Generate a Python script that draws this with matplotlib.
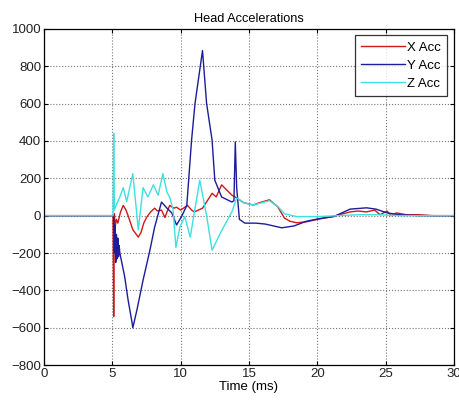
import matplotlib
matplotlib.use("Agg")
import matplotlib.pyplot as plt

plt.rcParams['font.family'] = ['Liberation Sans', 'DejaVu Sans']

title = "Head Accelerations"
xlabel = "Time (ms)"
series_names = ["X Acc", "Y Acc", "Z Acc"]
xticks = [0, 5, 10, 15, 20, 25, 30]
yticks = [-800, -600, -400, -200, 0, 200, 400, 600, 800, 1000]

# X Acc
x_t = [0, 5.05, 5.1, 5.15, 5.2, 5.3, 5.4, 5.6, 5.8, 6.0, 6.2, 6.5, 6.9, 7.1, 7.3, 7.5, 7.8, 8.1, 8.3,
       8.6, 8.85, 9.0, 9.2, 9.5, 9.7, 10.0, 10.5, 10.8, 11.0, 11.3, 11.6, 12.0, 12.3, 12.6, 13.0, 13.2,
       13.75, 14.1, 14.6, 15.3, 15.8, 16.5, 17.1, 17.6, 18.0, 18.5, 19.2, 20.0, 21.1, 22.4, 23.0, 23.6,
       24.2, 24.6, 25.1, 25.4, 25.8, 26.5, 27.5, 28.5, 30.0]
x_v = [0, 0, -540, 10, -60, -20, -40, 20, 55, 30, -10, -75, -115, -90, -40, -10, 20, 40, 25,
       30, -10, 20, 55, 40, 45, 30, 55, 30, 20, 30, 40, 85, 120, 100, 165, 150,
       110, 95, 70, 57, 70, 85, 48, -13, -30, -38, -33, -20, -5, 20, 25, 20,
       30, 5, 25, 0, 15, 5, 5, 0, 0]

# Y Acc
y_t = [0, 5.1, 5.15, 5.2, 5.25, 5.3, 5.35, 5.4, 5.45, 5.5, 5.55, 5.9, 6.15, 6.45, 6.5, 6.8, 7.25, 7.75,
       8.1, 8.6, 9.0, 9.35, 9.7, 10.1, 10.45, 10.8, 11.05, 11.6, 11.9, 12.3, 12.5, 13.0, 13.75, 13.9,
       14.0, 14.1, 14.3, 14.7, 15.5, 16.2, 17.4, 18.3, 19.2, 20.2, 21.2, 22.4, 23.6, 24.3, 25.1, 26.0,
       27.5, 30.0]
y_v = [0, 0, -200, -50, -250, -100, -230, -120, -220, -160, -200, -325, -450, -575, -600, -505, -345, -185,
       -60, 73, 40, 15, -50, 0, 55, 405, 600, 884, 600, 405, 190, 100, 73, 80,
       395, 150, -20, -40, -40, -45, -65, -55, -30, -15, -5, 35, 42, 35, 15, 5,
       0, 0]

# Z Acc
z_t = [0, 5.05, 5.1, 5.15, 5.3, 5.55, 5.8, 6.05, 6.5, 6.9, 7.25, 7.6, 8.0, 8.35, 8.7, 9.0, 9.2, 9.45,
       9.65, 9.95, 10.3, 10.7, 11.4, 11.9, 12.3, 13.0, 13.75, 14.1, 14.6, 15.3, 16.5, 17.1, 17.6, 18.5,
       20.0, 21.5, 23.0, 24.5, 26.0, 28.0, 30.0]
z_v = [0, 0, 440, 30, 60, 100, 150, 75, 225, -75, 150, 100, 165, 110, 225, 125, 100, 30,
       -170, -60, -5, -115, 190, 0, -185, -80, 20, 95, 70, 57, 80, 50, 10, -5,
       -5, 0, 5, 5, 0, 0, 0]

colors = ['#d01818', '#1c1c9c', '#3ee0e0']

fig = plt.figure(figsize=(4.59, 4.07), dpi=100)
ax = fig.add_axes([0.0959, 0.103, 0.893, 0.826])
ax.plot(x_t, x_v, color=colors[0], lw=1.0, label=series_names[0])
ax.plot(y_t, y_v, color=colors[1], lw=1.0, label=series_names[1])
ax.plot(z_t, z_v, color=colors[2], lw=1.0, label=series_names[2])

ax.set_xlim(0, 30)
ax.set_ylim(-800, 1000)
ax.set_xticks(xticks)
ax.set_yticks(yticks)
ax.tick_params(direction='in', top=True, right=True, labelsize=9.5, length=3, pad=2,
               labelcolor='#222222')
ax.grid(True, linestyle=':', color='#777777', lw=0.8)
ax.set_title(title, fontsize=9.2, pad=5)
ax.set_xlabel(xlabel, fontsize=9.5, labelpad=1)
for s in ax.spines.values():
    s.set_linewidth(0.9)
leg = ax.legend(loc='upper right', fontsize=9.5, frameon=True, fancybox=False,
                edgecolor='black', handlelength=3.3, borderaxespad=0.5, labelspacing=0.45,
                handletextpad=0.2, borderpad=0.45)
leg.get_frame().set_linewidth(0.9)

fig.savefig("out.png", dpi=100)
